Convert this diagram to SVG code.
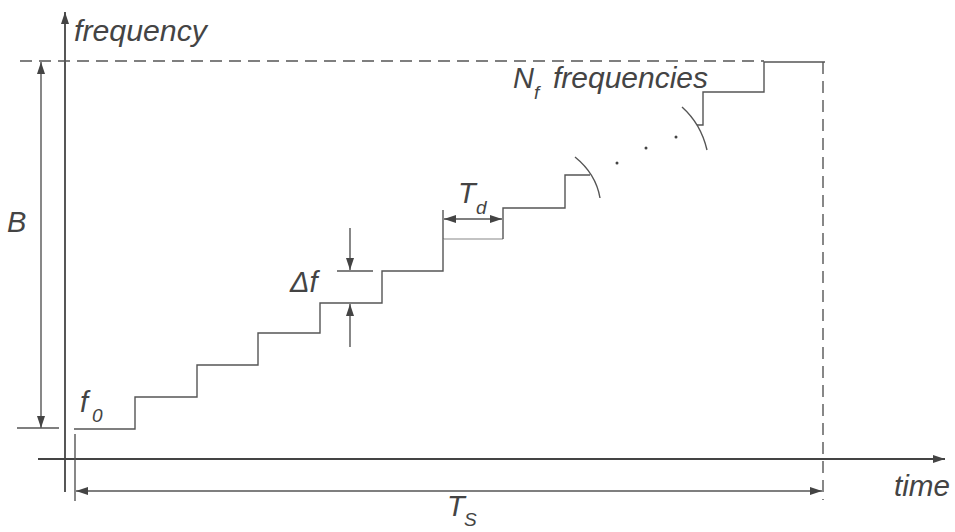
<svg xmlns="http://www.w3.org/2000/svg" width="955" height="532" viewBox="0 0 955 532">
<defs>
<marker id="ah" viewBox="0 0 12 8" refX="12" refY="4" markerWidth="12" markerHeight="8" markerUnits="userSpaceOnUse" orient="auto-start-reverse">
<path d="M0,0 L12,4 L0,8 z" fill="#444"/>
</marker>
<style>
.ln{stroke:#555;stroke-width:1.4;fill:none}
.ax{stroke:#444;stroke-width:1.8;fill:none}
.dash{stroke:#555;stroke-width:1.4;fill:none;stroke-dasharray:12 7}
.lt{stroke:#888;stroke-width:1.2;fill:none}
.tx{font-family:"Liberation Sans",Arial,sans-serif;font-style:italic;fill:#444;font-size:29px}
.sb{font-family:"Liberation Sans",Arial,sans-serif;font-style:italic;fill:#444;font-size:19px}
</style>
</defs>
<rect width="955" height="532" fill="#fff"/>
<g id="axes">
<line class="ax" x1="65" y1="492" x2="65" y2="12" marker-end="url(#ah)"/>
<line class="ax" x1="38" y1="459" x2="945" y2="459" marker-end="url(#ah)"/>
</g>
<g id="bounds">
<line class="dash" x1="20" y1="61" x2="764" y2="61"/>
<line class="dash" x1="823" y1="62" x2="823" y2="500"/>
</g>
<g id="staircase">
<path class="ln" d="M74,429 H135 V397 H197 V365 H258 V333 H320 V303 H382 V271 H443 V239"/>
<path class="lt" d="M443,239 H503"/>
<path class="ln" d="M503,239 V208 H565 V175 H590"/>
<path class="ln" d="M697,125 H703 V92 H764 V62 H825"/>
<path class="ln" d="M575,157 Q596,174 600,198"/>
<path class="ln" d="M682,107 Q701,124 707,150"/>
<circle cx="617" cy="163" r="1.5" fill="#444"/>
<circle cx="646" cy="148" r="1.5" fill="#444"/>
<circle cx="676" cy="137" r="1.5" fill="#444"/>
</g>
<g id="dim-B">
<line class="ln" x1="41" y1="428" x2="41" y2="62" marker-start="url(#ah)" marker-end="url(#ah)"/>
<line class="ln" x1="17" y1="428" x2="59" y2="428"/>
<text class="tx" x="7" y="232">B</text>
</g>
<g id="dim-Ts">
<line class="ln" x1="75" y1="434" x2="75" y2="501"/>
<line class="ln" x1="76" y1="491" x2="822" y2="491" marker-start="url(#ah)" marker-end="url(#ah)"/>
<text class="tx" x="447" y="516">T</text>
<text class="sb" x="464" y="526">S</text>
</g>
<g id="dim-Td">
<line class="ln" x1="443" y1="239" x2="443" y2="210"/>
<line class="ln" x1="444" y1="219" x2="502" y2="219" marker-start="url(#ah)" marker-end="url(#ah)"/>
<text class="tx" x="458" y="203">T</text>
<text class="sb" x="476" y="214">d</text>
</g>
<g id="dim-df">
<line class="ln" x1="350" y1="228" x2="350" y2="270" marker-end="url(#ah)"/>
<line class="ln" x1="337" y1="271" x2="373" y2="271"/>
<line class="ln" x1="350" y1="347" x2="350" y2="304" marker-end="url(#ah)"/>
<text class="tx" x="290" y="292">Δf</text>
</g>
<g id="labels">
<text class="tx" x="74" y="41" textLength="133" lengthAdjust="spacingAndGlyphs">frequency</text>
<text class="tx" x="513" y="88">N</text>
<text class="sb" x="534" y="99">f</text>
<text class="tx" x="553" y="88" textLength="155" lengthAdjust="spacingAndGlyphs">frequencies</text>
<text class="tx" x="80" y="412">f</text>
<text class="sb" x="92" y="422">0</text>
<text class="tx" x="894" y="496" textLength="56" lengthAdjust="spacingAndGlyphs">time</text>
</g>
</svg>
